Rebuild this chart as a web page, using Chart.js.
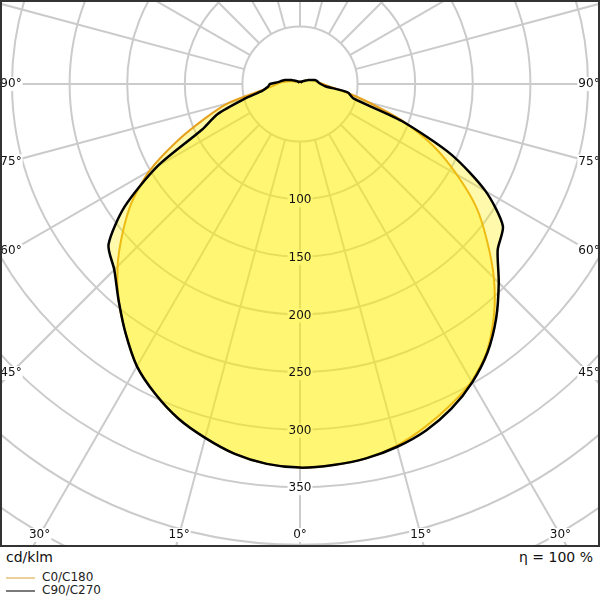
<!DOCTYPE html>
<html lang="en">
<head>
    <meta charset="UTF-8">
    <title>Luminous intensity distribution</title>
    <script src="https://cdn.jsdelivr.net/npm/chart.js"></script>
    <style>
        body {
            margin: 0;
            background: #fff;
            font-family: "DejaVu Sans", sans-serif;
            color: #111;
        }
        .wrap {
            position: relative;
            width: 600px;
            height: 547px;
        }
        .foot {
            position: relative;
            width: 600px;
            height: 53px;
        }
        .unit, .eta {
            position: absolute;
            top: 1px;
            font-size: 14px;
            line-height: 18px;
        }
        .unit { left: 6px; }
        .eta { right: 7px; }
        .leg {
            position: absolute;
            left: 6px;
            font-size: 12px;
            line-height: 13px;
            color: #222;
        }
        .leg span {
            display: inline-block;
            width: 29px;
            height: 0;
            border-top: 2px solid;
            vertical-align: middle;
            margin-right: 7px;
        }
    </style>
</head>
<body>
    <div class="wrap"><canvas id="ldc"></canvas></div>
    <div class="foot">
        <div class="unit">cd/klm</div>
        <div class="eta">η = 100 %</div>
        <div class="leg" style="top:24px"><span style="border-color:#edd09a"></span>C0/C180</div>
        <div class="leg" style="top:37px"><span style="border-color:#7a7a7a"></span>C90/C270</div>
    </div>

    <script>
        // gamma angles (deg, 0 = straight down) and intensities in cd/klm
        const gamma = [0, 5, 10, 15, 20, 25, 30, 35, 40, 45, 50, 55, 60, 65, 70, 75, 80, 85, 90,
                       95, 100, 105, 110, 115, 120, 125, 130, 135, 140, 145, 150, 155, 160, 165, 170, 175, 180];
        const c0 = [333, 332, 330, 325, 317, 308, 298, 283, 262, 238, 212, 187, 157, 128, 96, 62, 40, 26, 20,
                    16, 14, 12, 10, 8, 6, 5, 4, 4, 3, 3, 3, 2, 2, 2, 2, 2, 2];
        const c180 = [333, 331, 326, 318, 309, 297, 283, 264, 245, 224, 201, 178, 151, 118, 88, 65, 36, 25, 20,
                      16, 12, 9, 7, 5, 4, 4, 3, 3, 3, 2, 2, 2, 2, 2, 2, 2, 2];
        const c90 = [333, 332, 330, 326, 320, 311, 299, 284, 265, 244, 224, 215, 186, 145, 94, 48, 42, 22, 18,
                     16, 15, 13.5, 10, 8, 6, 5, 4, 3, 3, 2, 2, 2, 2, 2, 2, 2, 1];
        const c270 = [333, 331, 326, 318, 309, 297, 283, 264, 245, 228, 217, 186, 143, 94, 76, 50, 33, 28, 26,
                      19, 16, 13.5, 10, 8, 6, 5, 4, 3, 3, 2, 2, 2, 2, 2, 2, 2, 1];

        const rings = [50, 100, 150, 200, 250, 300, 350, 400, 450];
        const ringLabels = [100, 150, 200, 250, 300, 350];
        const spokeStep = 15;
        const angleLabels = [0, 15, 30, 45, 60, 75, 90];

        const PX_PER_CD = 57.6 / 50;
        const CENTER_X = 300, CENTER_Y = 84;

        // left half runs 180 -> 0, right half 0 -> 180
        function curve(left, right) {
            const pts = [];
            for (let i = gamma.length - 1; i >= 0; i--) {
                const a = gamma[i] * Math.PI / 180;
                pts.push({ x: -left[i] * Math.sin(a), y: -left[i] * Math.cos(a) });
            }
            for (let i = 1; i < gamma.length; i++) {
                const a = gamma[i] * Math.PI / 180;
                pts.push({ x: right[i] * Math.sin(a), y: -right[i] * Math.cos(a) });
            }
            return pts;
        }

        // where every grid label sits, in pixels
        function labelSpots(chart) {
            const { chartArea: area, scales: { x, y } } = chart;
            const cx = x.getPixelForValue(0);
            const cy = y.getPixelForValue(0);
            const k = x.getPixelForValue(1) - cx;
            const spots = ringLabels.map(v => ({ text: String(v), x: cx, y: cy + v * k + 1 }));

            const xIn = area.left + 11, yIn = area.bottom - 12;
            angleLabels.forEach(g => {
                const t = g * Math.PI / 180;
                const s = Math.sin(t), c = Math.cos(t);
                const tx = s > 1e-6 ? (cx - xIn) / s : Infinity;
                const ty = c > 1e-6 ? (yIn - cy) / c : Infinity;
                const d = Math.min(tx, ty);
                const py = cy + d * c;
                spots.push({ text: g + '°', x: cx - d * s, y: py });
                if (g > 0) spots.push({ text: g + '°', x: cx + d * s, y: py });
            });
            return spots;
        }

        const polarGrid = {
            id: 'polarGrid',
            beforeDatasetsDraw(chart) {
                const { ctx, chartArea: area, scales: { x, y } } = chart;
                const cx = x.getPixelForValue(0);
                const cy = y.getPixelForValue(0);
                const k = x.getPixelForValue(1) - cx;

                ctx.save();
                ctx.beginPath();
                ctx.rect(area.left, area.top, area.width, area.height);
                ctx.clip();

                ctx.strokeStyle = '#cbcbcb';
                ctx.lineWidth = 2;
                rings.forEach(r => {
                    ctx.beginPath();
                    ctx.arc(cx, cy, r * k, 0, Math.PI * 2);
                    ctx.stroke();
                });
                for (let a = 0; a < 360; a += spokeStep) {
                    const t = a * Math.PI / 180;
                    const r0 = rings[0] * k, r1 = 1000;
                    ctx.beginPath();
                    ctx.moveTo(cx + r0 * Math.sin(t), cy + r0 * Math.cos(t));
                    ctx.lineTo(cx + r1 * Math.sin(t), cy + r1 * Math.cos(t));
                    ctx.stroke();
                }

                // label backgrounds go under the fill so they pick up its tint
                ctx.font = '12px "DejaVu Sans"';
                ctx.fillStyle = '#fff';
                labelSpots(chart).forEach(p => {
                    const w = ctx.measureText(p.text).width;
                    ctx.fillRect(p.x - w / 2 - 1, p.y - 7, w + 2, 14);
                });
                ctx.restore();
            },
            afterDatasetsDraw(chart) {
                const { ctx } = chart;
                ctx.save();
                ctx.font = '12px "DejaVu Sans"';
                ctx.textAlign = 'center';
                ctx.textBaseline = 'middle';
                ctx.fillStyle = '#111';
                labelSpots(chart).forEach(p => ctx.fillText(p.text, p.x, p.y));
                ctx.restore();
            },
            afterDraw(chart) {
                const { ctx, chartArea: area } = chart;
                ctx.save();
                ctx.strokeStyle = '#333';
                ctx.lineWidth = 2;
                ctx.strokeRect(area.left + 1, area.top + 1, area.width - 2, area.height - 2);
                ctx.restore();
            }
        };

        const halfW = CENTER_X / PX_PER_CD;

        new Chart(document.getElementById('ldc'), {
            type: 'scatter',
            data: {
                datasets: [{
                    label: 'C90/C270',
                    data: curve(c270, c90),
                    showLine: true,
                    borderColor: '#000',
                    borderWidth: 2.5,
                    backgroundColor: 'rgba(255, 240, 0, 0.33)',
                    fill: 'shape',
                    pointRadius: 0,
                    tension: 0.25,
                    order: 0
                }, {
                    label: 'C0/C180',
                    data: curve(c180, c0),
                    showLine: true,
                    borderColor: '#e5a11c',
                    borderWidth: 2,
                    backgroundColor: 'rgba(255, 240, 0, 0.33)',
                    fill: 'shape',
                    pointRadius: 0,
                    tension: 0.25,
                    order: 1
                }]
            },
            options: {
                responsive: true,
                maintainAspectRatio: false,
                animation: false,
                layout: { padding: 0 },
                plugins: {
                    legend: { display: false },
                    tooltip: { enabled: false }
                },
                scales: {
                    x: { type: 'linear', display: false, min: -halfW, max: halfW },
                    y: { type: 'linear', display: false, min: -(547 - CENTER_Y) / PX_PER_CD, max: CENTER_Y / PX_PER_CD }
                }
            },
            plugins: [polarGrid]
        });
    </script>
</body>
</html>
